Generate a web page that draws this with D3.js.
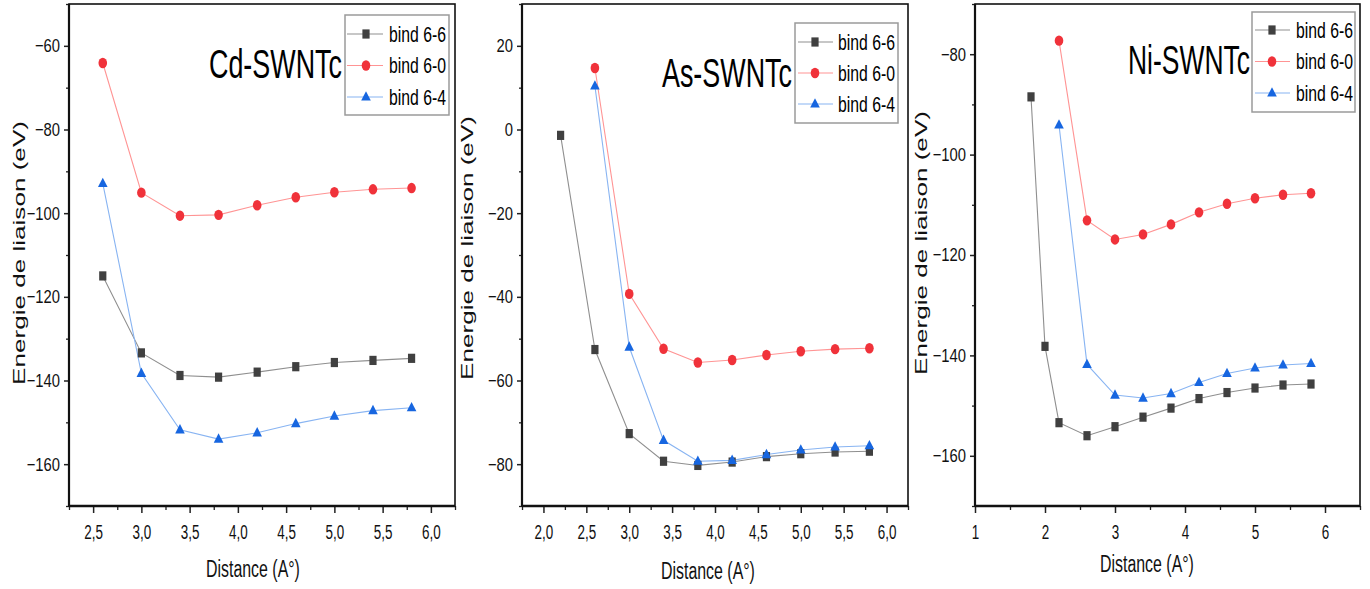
<!DOCTYPE html>
<html><head><meta charset="utf-8">
<script src="https://cdn.jsdelivr.net/npm/d3@7"></script>
<style>body{margin:0;background:#fff}text{font-family:"Liberation Sans",Arial,sans-serif}</style>
</head><body><svg id="c" width="1370" height="589"></svg>
<script>
// ---------- data ----------
const seriesNames = ["bind 6-6", "bind 6-0", "bind 6-4"];
const panelTitles = ["Cd-SWNTc", "As-SWNTc", "Ni-SWNTc"];
const yAxisTitle = "Energie de liaison (eV)";
const xAxisTitle = "Distance (A°)";

// Cd-SWNTc
const cdX = [2.6, 3.0, 3.4, 3.8, 4.2, 4.6, 5.0, 5.4, 5.8];
const cd66 = [-115.0, -133.4, -138.8, -139.2, -138.0, -136.7, -135.7, -135.2, -134.7];
const cd60 = [-64.1, -95.1, -100.6, -100.4, -98.1, -96.2, -95.0, -94.3, -94.0];
const cd64 = [-92.9, -138.3, -151.8, -154.0, -152.5, -150.3, -148.5, -147.2, -146.5];
const cdXTicks = [2.5, 3.0, 3.5, 4.0, 4.5, 5.0, 5.5, 6.0];
const cdXLabels = ["2,5", "3,0", "3,5", "4,0", "4,5", "5,0", "5,5", "6,0"];
const cdYTicks = [-160, -140, -120, -100, -80, -60];

// As-SWNTc
const as66X = [2.2, 2.6, 3.0, 3.4, 3.8, 4.2, 4.6, 5.0, 5.4, 5.8];
const as66 = [-1.4, -52.6, -72.7, -79.3, -80.3, -79.5, -78.2, -77.5, -77.1, -76.9];
const asX = [2.6, 3.0, 3.4, 3.8, 4.2, 4.6, 5.0, 5.4, 5.8];
const as60 = [14.7, -39.3, -52.4, -55.7, -55.1, -53.9, -53.0, -52.5, -52.3];
const as64 = [10.4, -52.0, -74.3, -79.3, -79.1, -77.7, -76.6, -75.9, -75.6];
const asXTicks = [2.0, 2.5, 3.0, 3.5, 4.0, 4.5, 5.0, 5.5, 6.0];
const asXLabels = ["2,0", "2,5", "3,0", "3,5", "4,0", "4,5", "5,0", "5,5", "6,0"];
const asYTicks = [-80, -60, -40, -20, 0, 20];

// Ni-SWNTc
const ni66X = [1.8, 2.0, 2.2, 2.6, 3.0, 3.4, 3.8, 4.2, 4.6, 5.0, 5.4, 5.8];
const ni66 = [-88.5, -138.2, -153.4, -156.0, -154.2, -152.3, -150.5, -148.6, -147.4, -146.5, -145.9, -145.7];
const niX = [2.2, 2.6, 3.0, 3.4, 3.8, 4.2, 4.6, 5.0, 5.4, 5.8];
const ni60 = [-77.3, -113.1, -116.9, -115.9, -113.9, -111.5, -109.8, -108.7, -108.0, -107.7];
const ni64 = [-94.1, -141.8, -147.9, -148.5, -147.6, -145.4, -143.6, -142.5, -141.9, -141.6];
const niXTicks = [1, 2, 3, 4, 5, 6];
const niXLabels = ["1", "2", "3", "4", "5", "6"];
const niYTicks = [-160, -140, -120, -100, -80];

// ---------- layout / style ----------
const styles = [
  {line: "#8f8f8f", fill: "#404040", shape: "square"},
  {line: "#ff9494", fill: "#f0323a", shape: "circle"},
  {line: "#88b4f2", fill: "#1766e0", shape: "triangle"}
];
const zip = (xs, ys) => xs.map((x, i) => ({x, y: ys[i]}));

const panels = [
  {title: panelTitles[0], left: 69, right: 455, xDom: [2.25, 6.25], yDom: [-170, -50],
   xTicks: cdXTicks, xLabels: cdXLabels, xMinorStep: 0.5, yTicks: cdYTicks,
   series: [zip(cdX, cd66), zip(cdX, cd60), zip(cdX, cd64)],
   titlePos: {x: 209, y: 78, w: 133}, legend: {x: 345, y: 15, w: 104, h: 100, rows: [34, 65.5, 97], l1: 347, l2: 383, mx: 366, tx: 389},
   yLab: {x: 25, y: 253}, xLab: {x: 206, y: 577}},
  {title: panelTitles[1], left: 522, right: 908, xDom: [1.75, 6.25], yDom: [-90, 30],
   xTicks: asXTicks, xLabels: asXLabels, xMinorStep: 0.5, yTicks: asYTicks,
   series: [zip(as66X, as66), zip(asX, as60), zip(asX, as64)],
   titlePos: {x: 662, y: 87, w: 130}, legend: {x: 795, y: 23, w: 103, h: 100, rows: [42, 73, 104], l1: 798, l2: 833, mx: 815, tx: 838},
   yLab: {x: 473, y: 248}, xLab: {x: 661, y: 579}},
  {title: panelTitles[2], left: 975, right: 1360, xDom: [1, 6.5], yDom: [-170, -70],
   xTicks: niXTicks, xLabels: niXLabels, xMinorStep: 1, yTicks: niYTicks,
   series: [zip(ni66X, ni66), zip(niX, ni60), zip(niX, ni64)],
   titlePos: {x: 1128, y: 74, w: 122}, legend: {x: 1252, y: 12, w: 103, h: 100, rows: [30, 61.5, 93], l1: 1255, l2: 1290, mx: 1272, tx: 1296},
   yLab: {x: 927, y: 243}, xLab: {x: 1100, y: 572}}
];
const TOP = 4, BOTTOM = 506;

const svg = d3.select("#c");
svg.append("rect").attr("width", 1370).attr("height", 589).attr("fill", "#fff");

// text squeezed horizontally to a target width via a transform
function fitText(g, str, x, y, size, width, fill) {
  const t = g.append("text").attr("font-size", size).attr("fill", fill || "#000").text(str);
  const w = t.node().getComputedTextLength();
  t.attr("transform", `translate(${x},${y}) scale(${width / w},1)`);
  return t;
}
function marker(g, shape, fill, cx, cy) {
  if (shape === "square") g.append("rect").attr("x", cx - 3.6).attr("y", cy - 4.6).attr("width", 7.2).attr("height", 9.2).attr("fill", fill);
  else if (shape === "circle") g.append("ellipse").attr("cx", cx).attr("cy", cy).attr("rx", 4.3).attr("ry", 5.2).attr("fill", fill);
  else g.append("path").attr("d", `M${cx},${cy - 5.8}L${cx + 4.8},${cy + 3.6}L${cx - 4.8},${cy + 3.6}Z`).attr("fill", fill);
}

panels.forEach(p => {
  const g = svg.append("g");
  const x = d3.scaleLinear().domain(p.xDom).range([p.left, p.right]);
  const y = d3.scaleLinear().domain(p.yDom).range([BOTTOM, TOP]);

  // y label (rotated, stretched along its length)
  const yl = g.append("text").attr("text-anchor", "middle").attr("font-size", 17).attr("fill", "#111").text(yAxisTitle);
  const ylw = yl.node().getComputedTextLength();
  yl.attr("transform", `translate(${p.yLab.x},${p.yLab.y}) rotate(-90) scale(${264 / ylw},1)`);

  // minor ticks
  const xMinor = d3.range(p.xDom[0], p.xDom[1] + 1e-9, p.xMinorStep / 2).filter(v => !p.xTicks.some(t => Math.abs(t - v) < 1e-6));
  const yMinor = d3.range(p.yDom[0], p.yDom[1] + 1e-9, 10).filter(v => !p.yTicks.includes(v));
  const gxm = g.append("g").attr("transform", `translate(0,${BOTTOM})`)
    .call(d3.axisBottom(x).tickValues(xMinor).tickSize(4).tickSizeOuter(0).tickFormat(""));
  const gym = g.append("g").attr("transform", `translate(${p.left},0)`)
    .call(d3.axisLeft(y).tickValues(yMinor).tickSize(3).tickSizeOuter(0).tickFormat(""));
  [gxm, gym].forEach(a => { a.select(".domain").remove(); a.selectAll("line").attr("stroke", "#222").attr("stroke-width", 1.3); });

  // major axes
  const gx = g.append("g").attr("transform", `translate(0,${BOTTOM})`)
    .call(d3.axisBottom(x).tickValues(p.xTicks).tickSize(7).tickSizeOuter(0).tickPadding(11)
      .tickFormat((d, i) => p.xLabels[i]));
  const gy = g.append("g").attr("transform", `translate(${p.left},0)`)
    .call(d3.axisLeft(y).tickValues(p.yTicks).tickSize(5).tickSizeOuter(0).tickPadding(4)
      .tickFormat(d => (d < 0 ? "\u2212" + Math.abs(d) : String(d))));
  [gx, gy].forEach(a => { a.select(".domain").remove(); a.selectAll("line").attr("stroke", "#222").attr("stroke-width", 1.5); });
  gx.selectAll("text").attr("font-size", 21).attr("fill", "#111").attr("font-family", "Liberation Sans, Arial, sans-serif")
    .attr("transform", "scale(0.64,1)");
  gy.selectAll("text").attr("font-size", 18.5).attr("fill", "#111").attr("font-family", "Liberation Sans, Arial, sans-serif")
    .attr("x", -9 / 0.8).attr("transform", "scale(0.8,1)");

  // frame
  g.append("rect").attr("x", p.left).attr("y", TOP).attr("width", p.right - p.left).attr("height", BOTTOM - TOP)
    .attr("fill", "none").attr("stroke", "#111").attr("stroke-width", 1.6);
  g.append("line").attr("x1", p.left).attr("x2", p.right).attr("y1", BOTTOM).attr("y2", BOTTOM).attr("stroke", "#111").attr("stroke-width", 2.4);
  g.append("line").attr("x1", p.left).attr("x2", p.left).attr("y1", TOP).attr("y2", BOTTOM).attr("stroke", "#111").attr("stroke-width", 2.2);

  // series
  const line = d3.line().x(d => x(d.x)).y(d => y(d.y));
  p.series.forEach((s, i) => {
    g.append("path").attr("d", line(s)).attr("fill", "none").attr("stroke", styles[i].line).attr("stroke-width", 1.1);
  });
  p.series.forEach((s, i) => {
    const mg = g.append("g");
    s.forEach(d => marker(mg, styles[i].shape, styles[i].fill, x(d.x), y(d.y)));
  });

  // title
  fitText(g, p.title, p.titlePos.x, p.titlePos.y, 41, p.titlePos.w, "#000");

  // legend
  const L = p.legend;
  g.append("rect").attr("x", L.x).attr("y", L.y).attr("width", L.w).attr("height", L.h)
    .attr("fill", "#fff").attr("stroke", "#9a9a9a").attr("stroke-width", 1.5);
  seriesNames.forEach((n, i) => {
    const ry = L.rows[i];
    g.append("line").attr("x1", L.l1).attr("x2", L.l2).attr("y1", ry).attr("y2", ry).attr("stroke", styles[i].line).attr("stroke-width", 1.2);
    marker(g, styles[i].shape, styles[i].fill, L.mx, ry);
    fitText(g, n, L.tx, ry + 7.5, 22, 57, "#000");
  });

  // x label
  fitText(g, xAxisTitle, p.xLab.x, p.xLab.y, 23, 94, "#111");
});
</script></body></html>
